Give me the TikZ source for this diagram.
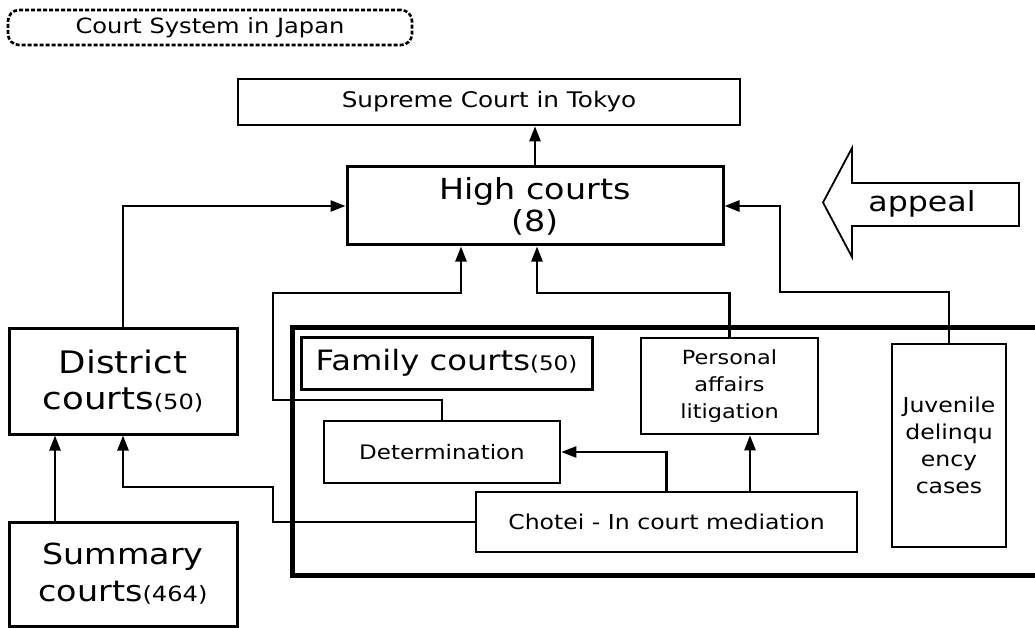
\documentclass[tikz,border=0pt]{standalone}
\usepackage{fontspec}
\setmainfont[FakeStretch=1.15]{DejaVu Sans}
\usetikzlibrary{arrows.meta}
\tikzset{
  box/.style={draw, line width=2.6pt, inner sep=0pt, align=center},
  arr/.style={line width=2.4pt, -{Triangle[length=15pt,width=11pt]}},
}
\newcommand{\fs}[2]{\fontsize{#1}{#2}\selectfont}
\begin{document}
\begin{tikzpicture}[x=1pt,y=-1pt]
\useasboundingbox (0,0) rectangle (1035,628);
% title
\node[box, rounded corners=11pt, dash pattern=on 4pt off 2pt, minimum width=404pt, minimum height=35pt, font=\fs{21}{25}] (title) at (210,27.5) {Court System in Japan};
% main boxes
\node[box, minimum width=502pt, minimum height=46pt, font=\fs{21.5}{25}] (supreme) at (489,102) {Supreme Court in Tokyo};
\node[box, minimum width=376pt, minimum height=78pt, line width=3pt, font=\fs{29}{32}] (high) at (535,206) {High courts\\(8)};
\node[box, minimum width=228pt, minimum height=106pt, line width=3pt, font=\fs{31}{36}] (district) at (123,381) {District\\courts{\fs{21}{36}(50)}};
\node[box, minimum width=228pt, minimum height=104pt, line width=3pt, font=\fs{29}{37}] (summary) at (123,574) {Summary\\courts{\fs{21}{37}(464)}};
% family court frame
\draw[line width=5pt] (1040,327) -- (292,327) -- (292,575) -- (1040,575);
\node[box, minimum width=291pt, minimum height=52pt, line width=3pt, font=\fs{28}{32}] (family) at (446.5,363) {Family courts{\fs{20}{32}(50)}};
\node[box, minimum width=236pt, minimum height=62pt, font=\fs{20}{24}] (det) at (442,452) {Determination};
\node[box, minimum width=177pt, minimum height=96pt, font=\fs{19.5}{27}] (pers) at (729.5,386) {Personal\\affairs\\litigation};
\node[box, minimum width=114pt, minimum height=203pt, font=\fs{20.5}{27}] (juv) at (949,445.5) {Juvenile\\delinqu\\ency\\cases};
\node[box, minimum width=381pt, minimum height=60pt, font=\fs{20.5}{24}] (chotei) at (666.5,522) {Chotei - In court mediation};
% appeal arrow
\draw[line width=1.8pt, line join=miter] (823,202.5) -- (852,148) -- (852,183) -- (1019,183) -- (1019,226) -- (852,226) -- (852,257) -- cycle;
\node[font=\fs{27.5}{30}] (appeal) at (922,204) {appeal};
% helper coordinates
\coordinate (d1) at (273,400);
\coordinate (d3) at (461,293);
\coordinate (p1) at (537,293);
\coordinate (j1) at (780,292);
\coordinate (c2) at (750,0);
\coordinate (c3) at (273,487);
\coordinate (s1) at (55,0);
% connectors
\draw[arr] (high.north) -- (supreme.south -| high.north);
\draw[arr] (district.north) |- (high.west);
\draw[arr] (juv.north) |- (j1) |- (high.east);
\draw[arr] (det.north) |- (d1) |- (d3) -- (high.south -| d3);
\draw[arr] (pers.north) |- (p1) -- (high.south -| p1);
\draw[arr] (chotei.north) |- (det.east);
\draw[arr] (chotei.north -| c2) -- (pers.south -| c2);
\draw[arr] (chotei.west) -| (c3) -| (district.south);
\draw[arr] (summary.north -| s1) -- (district.south -| s1);
\end{tikzpicture}
\end{document}
